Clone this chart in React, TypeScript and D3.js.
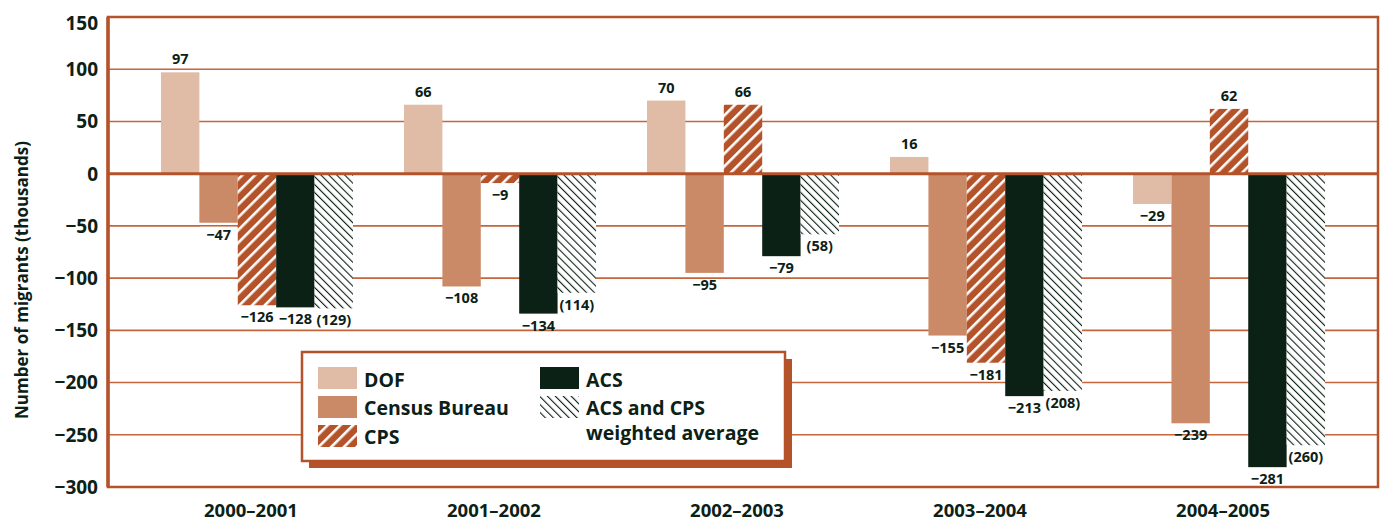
import * as d3 from "d3";
import { useEffect, useRef } from "react";

const periods = ["2000–2001", "2001–2002", "2002–2003", "2003–2004", "2004–2005"];
const seriesKeys = ["dof", "census", "cps", "acs", "weighted"];
const dof = [97, 66, 70, 16, -29];
const census = [-47, -108, -95, -155, -239];
const cps = [-126, -9, 66, -181, 62];
const acs = [-128, -134, -79, -213, -281];
const weighted = [-129, -114, -58, -208, -260];
const yTicks = [150, 100, 50, 0, -50, -100, -150, -200, -250, -300];

const W = 1381;
const H = 521;
const FONT = "'Open Sans', 'DejaVu Sans', sans-serif";
const INK = "#0c2116";
const RUST = "#b4522a";
const GRID = "#c4653c";

const fills: Record<string, string> = {
  dof: "#e0bba5",
  census: "#cb8a67",
  cps: "url(#cpsHatch)",
  acs: INK,
  weighted: "url(#wavgHatch)",
};

export default function App() {
  const ref = useRef<SVGSVGElement>(null);

  useEffect(() => {
    document.body.style.margin = "0";
    if (!ref.current) return;
    const svg = d3.select(ref.current);
    svg.selectAll("*").remove();

    const rows = periods.map((p, i) => ({
      period: p,
      dof: dof[i],
      census: census[i],
      cps: cps[i],
      acs: acs[i],
      weighted: weighted[i],
    }));

    const left = 108, right = 1378, top = 17, bottom = 487;

    const y = d3.scaleLinear().domain([-300, 150]).range([bottom, top]);
    const x0 = d3
      .scaleBand<string>()
      .domain(periods)
      .range([left, right])
      .paddingInner(0.21)
      .paddingOuter(0.218);
    const x1 = d3
      .scaleBand<string>()
      .domain(seriesKeys)
      .range([0, x0.bandwidth()]);

    // patterns
    const defs = svg.append("defs");
    const cp = defs
      .append("pattern")
      .attr("id", "cpsHatch")
      .attr("patternUnits", "userSpaceOnUse")
      .attr("width", 9)
      .attr("height", 9)
      .attr("patternTransform", "rotate(45)");
    cp.append("rect").attr("width", 9).attr("height", 9).attr("fill", RUST);
    cp.append("rect").attr("width", 2.6).attr("height", 9).attr("fill", "#fff");

    const wp = defs
      .append("pattern")
      .attr("id", "wavgHatch")
      .attr("patternUnits", "userSpaceOnUse")
      .attr("width", 5.6)
      .attr("height", 5.6)
      .attr("patternTransform", "rotate(-45)");
    wp.append("rect").attr("width", 5.6).attr("height", 5.6).attr("fill", "#fff");
    wp.append("rect").attr("width", 1.1).attr("height", 5.6).attr("fill", INK);

    svg.append("rect").attr("width", W).attr("height", H).attr("fill", "#fff");

    // gridlines behind bars
    svg
      .append("g")
      .selectAll("line")
      .data(yTicks.filter((t) => t !== 0 && t !== 150 && t !== -300))
      .join("line")
      .attr("x1", left)
      .attr("x2", right)
      .attr("y1", (d) => y(d))
      .attr("y2", (d) => y(d))
      .attr("stroke", GRID)
      .attr("stroke-width", 1.6);

    // bars
    const groups = svg
      .append("g")
      .selectAll("g")
      .data(rows)
      .join("g")
      .attr("transform", (d) => `translate(${x0(d.period)},0)`);

    const cells = groups
      .selectAll("g")
      .data((d) => seriesKeys.map((k) => ({ key: k, value: (d as any)[k] as number })))
      .join("g");

    cells
      .append("rect")
      .attr("x", (d) => x1(d.key)!)
      .attr("width", x1.bandwidth())
      .attr("y", (d) => y(Math.max(0, d.value)))
      .attr("height", (d) => Math.abs(y(d.value) - y(0)))
      .attr("fill", (d) => fills[d.key]);

    // zero line and frame
    svg
      .append("line")
      .attr("x1", left)
      .attr("x2", right)
      .attr("y1", y(0))
      .attr("y2", y(0))
      .attr("stroke", RUST)
      .attr("stroke-width", 3);
    svg
      .append("rect")
      .attr("x", left)
      .attr("y", top)
      .attr("width", right - left)
      .attr("height", bottom - top)
      .attr("fill", "none")
      .attr("stroke", RUST)
      .attr("stroke-width", 2.5);
    svg
      .append("line")
      .attr("x1", left)
      .attr("x2", left)
      .attr("y1", top)
      .attr("y2", bottom)
      .attr("stroke", RUST)
      .attr("stroke-width", 3.5);

    // value labels
    const fmt = (d: { key: string; value: number }) =>
      d.key === "weighted"
        ? `(${Math.abs(d.value)})`
        : d.value < 0
        ? `−${Math.abs(d.value)}`
        : `${d.value}`;

    const lab = cells
      .append("g")
      .attr(
        "transform",
        (d) =>
          `translate(${x1(d.key)! + x1.bandwidth() / 2},${
            d.value >= 0 ? y(d.value) - 8 : y(d.value) + 17
          })`
      );
    const bg = lab.append("rect").attr("fill", "#fff");
    const txt = lab
      .append("text")
      .attr("text-anchor", "middle")
      .attr("font-family", FONT)
      .attr("font-weight", 700)
      .attr("font-size", 14.5)
      .attr("fill", INK)
      .text(fmt);
    txt.each(function (_, i) {
      const b = (this as SVGTextElement).getBBox();
      d3.select(bg.nodes()[i])
        .attr("x", b.x - 2)
        .attr("y", b.y + 2)
        .attr("width", b.width + 4)
        .attr("height", b.height - 3);
    });

    // y tick labels
    svg
      .append("g")
      .selectAll("text")
      .data(yTicks)
      .join("text")
      .attr("x", 98)
      .attr("y", (d) => Math.max(y(d), 23))
      .attr("dy", "0.36em")
      .attr("text-anchor", "end")
      .attr("font-family", FONT)
      .attr("font-weight", 700)
      .attr("font-size", 19)
      .attr("fill", INK)
      .text((d) => (d < 0 ? `−${Math.abs(d)}` : `${d}`));

    // x labels
    svg
      .append("g")
      .selectAll("text")
      .data(periods)
      .join("text")
      .attr("x", (d) => x0(d)! + x0.bandwidth() / 2 - 6)
      .attr("y", 517)
      .attr("text-anchor", "middle")
      .attr("font-family", FONT)
      .attr("font-weight", 700)
      .attr("font-size", 18.5)
      .attr("fill", INK)
      .text((d) => d);

    // y title
    svg
      .append("text")
      .attr("transform", "translate(28,280) rotate(-90)")
      .attr("text-anchor", "middle")
      .attr("font-family", FONT)
      .attr("font-weight", 700)
      .attr("font-size", 17)
      .attr("fill", INK)
      .text("Number of migrants (thousands)");

    // legend
    const lg = svg.append("g");
    lg.append("rect")
      .attr("x", 309)
      .attr("y", 359)
      .attr("width", 483)
      .attr("height", 109)
      .attr("fill", RUST);
    lg.append("rect")
      .attr("x", 302)
      .attr("y", 352)
      .attr("width", 483)
      .attr("height", 109)
      .attr("fill", "#fff")
      .attr("stroke", RUST)
      .attr("stroke-width", 2.5);

    const legendItems = [
      { key: "dof", sx: 318, sy: 367, lines: ["DOF"], ty: 387 },
      { key: "census", sx: 318, sy: 396, lines: ["Census Bureau"], ty: 415 },
      { key: "cps", sx: 318, sy: 425, lines: ["CPS"], ty: 444 },
      { key: "acs", sx: 540, sy: 367, lines: ["ACS"], ty: 387 },
      { key: "weighted", sx: 540, sy: 396, lines: ["ACS and CPS", "weighted average"], ty: 415 },
    ];
    legendItems.forEach((it) => {
      lg.append("rect")
        .attr("x", it.sx)
        .attr("y", it.sy)
        .attr("width", 39)
        .attr("height", 22)
        .attr("fill", fills[it.key]);
      const t = lg
        .append("text")
        .attr("font-family", FONT)
        .attr("font-weight", 700)
        .attr("font-size", 19.5)
        .attr("fill", INK);
      it.lines.forEach((ln, j) => {
        t.append("tspan")
          .attr("x", it.sx + 46)
          .attr("y", it.ty + j * 25)
          .text(ln);
      });
    });
  }, []);

  return <svg ref={ref} width={W} height={H} style={{ display: "block" }} />;
}
